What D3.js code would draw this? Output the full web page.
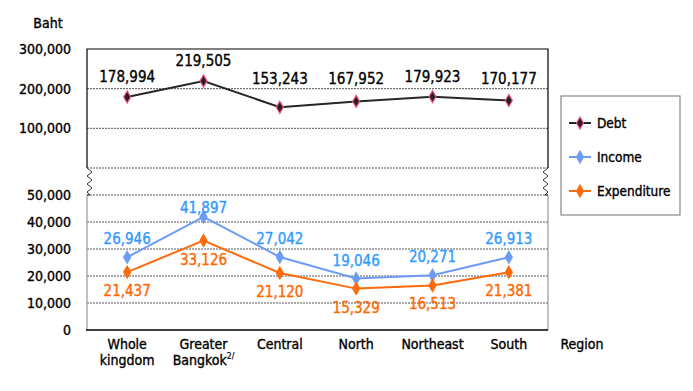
<!DOCTYPE html>
<html><head><meta charset="utf-8">
<script src="https://cdn.jsdelivr.net/npm/d3@7"></script>
<style>
body{margin:0;background:#fff;}
text{font-family:"DejaVu Sans Condensed","DejaVu Sans",sans-serif;}
</style></head>
<body><svg id="c" width="693" height="391"></svg>
<script>
const categories = ["Whole kingdom","Greater Bangkok","Central","North","Northeast","South"];
const categoryLines = [["Whole","kingdom"],["Greater","Bangkok"],["Central"],["North"],["Northeast"],["South"]];
const debt = [178994,219505,153243,167952,179923,170177];
const income = [26946,41897,27042,19046,20271,26913];
const expenditure = [21437,33126,21120,15329,16513,21381];
const topTicks = [100000,200000,300000];
const bottomTicks = [0,10000,20000,30000,40000,50000];
const seriesNames = ["Debt","Income","Expenditure"];

const svg = d3.select("#c");
const L = 87, R = 548;
const x = d3.scalePoint(categories,[89,547]).padding(0.5);
const yTop = d3.scaleLinear([0,300000],[168,49]);
const yBot = d3.scaleLinear([0,50000],[330,195]);
const fmt = d3.format(",");

// gridlines
const gridTop = [0,100000,200000];
svg.selectAll(".gt").data(gridTop).join("line")
  .attr("x1",L).attr("x2",R).attr("y1",d=>yTop(d)).attr("y2",d=>yTop(d))
  .attr("stroke","#555").attr("stroke-width",1).attr("stroke-dasharray","2,1");
svg.selectAll(".gb").data(bottomTicks.slice(1)).join("line")
  .attr("x1",L).attr("x2",R).attr("y1",d=>yBot(d)).attr("y2",d=>yBot(d))
  .attr("stroke","#555").attr("stroke-width",1).attr("stroke-dasharray","2,1");

// top panel border
svg.append("path").attr("d",`M${L},${yTop(0)}V${yTop(300000)}H${R}V${yTop(0)}`)
  .attr("fill","none").attr("stroke","#000").attr("stroke-width",1.2);
// bottom panel sides
svg.append("path").attr("d",`M${L},${yBot(50000)}V${yBot(0)}M${R},${yBot(50000)}V${yBot(0)}`)
  .attr("fill","none").attr("stroke","#999").attr("stroke-width",1.2);
svg.append("line").attr("x1",L-1).attr("x2",R).attr("y1",yBot(0)).attr("y2",yBot(0))
  .attr("stroke","#000").attr("stroke-width",1.3);

// zigzag breaks
function zig2(x0,dir){
  const y0 = yTop(0), y1 = yBot(50000);
  const pts=[[0,0],[5,4],[0,8],[5,12],[0,16],[5,20],[0,24],[3,27]];
  let d=`M${x0},${y0}`;
  pts.forEach(p=>{d+=`L${x0+dir*p[0]},${y0+p[1]}`;});
  d+=`L${x0},${y1}`;
  return d;
}
svg.append("path").attr("d",zig2(L,1)).attr("fill","none").attr("stroke","#333").attr("stroke-width",1);
svg.append("path").attr("d",zig2(R,-1)).attr("fill","none").attr("stroke","#333").attr("stroke-width",1);

function heavy(sel,color){ return sel.attr("stroke",color).attr("stroke-width",0.35); }

// y tick labels
heavy(svg.selectAll(".tt").data(topTicks).join("text")
  .attr("x",71).attr("y",d=>yTop(d)+5).attr("text-anchor","end")
  .attr("font-size",14).attr("fill","#000").text(d=>fmt(d)),"#000");
heavy(svg.selectAll(".tb").data(bottomTicks).join("text")
  .attr("x",71).attr("y",d=>yBot(d)+5).attr("text-anchor","end")
  .attr("font-size",14).attr("fill","#000").text(d=>fmt(d)),"#000");
heavy(svg.append("text").attr("x",48).attr("y",28).attr("text-anchor","middle").attr("font-size",14).text("Baht"),"#000");

// x labels
categories.forEach((c,i)=>{
  const t = svg.append("text").attr("x",x(c)).attr("y",349).attr("text-anchor","middle").attr("font-size",14);
  heavy(t,"#000");
  categoryLines[i].forEach((ln,j)=>{
    t.append("tspan").attr("x",x(c)).attr("dy",j===0?0:16).text(ln);
  });
  if(c==="Greater Bangkok"){
    t.append("tspan").attr("font-size",8.5).attr("stroke-width",0.2).attr("dy",-6).text("2/");
  }
});
heavy(svg.append("text").attr("x",582).attr("y",349).attr("text-anchor","middle").attr("font-size",14).text("Region"),"#000");

// series
const diamond = d3.symbol().type(d3.symbolDiamond).size(42);
const series = [
  {name:"Debt", vals:debt, y:yTop, line:"#262626", fill:"#222", stroke:"#f0507a", label:"#000",
    ly:v=>Math.min(yTop(v)-15, yTop(200000)-5)},
  {name:"Income", vals:income, y:yBot, line:"#6d9cf7", fill:"#6d9cf7", stroke:"#6d9cf7", label:"#3399ff",
    ly:v=>Math.max(yBot(v)-13, yBot(50000)+18)},
  {name:"Expenditure", vals:expenditure, y:yBot, line:"#ff6a0a", fill:"#ff6a0a", stroke:"#ff6a0a", label:"#ff6600",
    ly:v=>yBot(v)+24}
];
const lineGen = (ys)=>d3.line().x((d,i)=>x(categories[i])).y(d=>ys(d));
series.forEach(s=>{
  svg.append("path").datum(s.vals).attr("d",lineGen(s.y)).attr("fill","none")
    .attr("stroke",s.line).attr("stroke-width",2);
  svg.selectAll(null).data(s.vals).join("path")
    .attr("d",diamond).attr("transform",(d,i)=>`translate(${x(categories[i])},${s.y(d)})`)
    .attr("fill",s.fill).attr("stroke",s.stroke).attr("stroke-width",1.2);
  heavy(svg.selectAll(null).data(s.vals).join("text")
    .attr("x",(d,i)=>x(categories[i])).attr("y",d=>s.ly(d))
    .attr("text-anchor","middle").attr("font-size",15).attr("fill",s.label)
    .text(d=>fmt(d)),s.label);
});

// legend
const lg = svg.append("g");
lg.append("rect").attr("x",561).attr("y",96).attr("width",119).attr("height",119)
  .attr("fill","#fff").attr("stroke","#888").attr("stroke-width",1.2);
series.forEach((s,i)=>{
  const yy = 123 + i*34;
  lg.append("line").attr("x1",569).attr("x2",591).attr("y1",yy).attr("y2",yy).attr("stroke",s.line).attr("stroke-width",2);
  lg.append("path").attr("d",diamond).attr("transform",`translate(580,${yy})`)
    .attr("fill",s.fill).attr("stroke",s.stroke).attr("stroke-width",1.2);
  heavy(lg.append("text").attr("x",597).attr("y",yy+5).attr("font-size",13.5).text(seriesNames[i]),"#000");
});
</script></body></html>
